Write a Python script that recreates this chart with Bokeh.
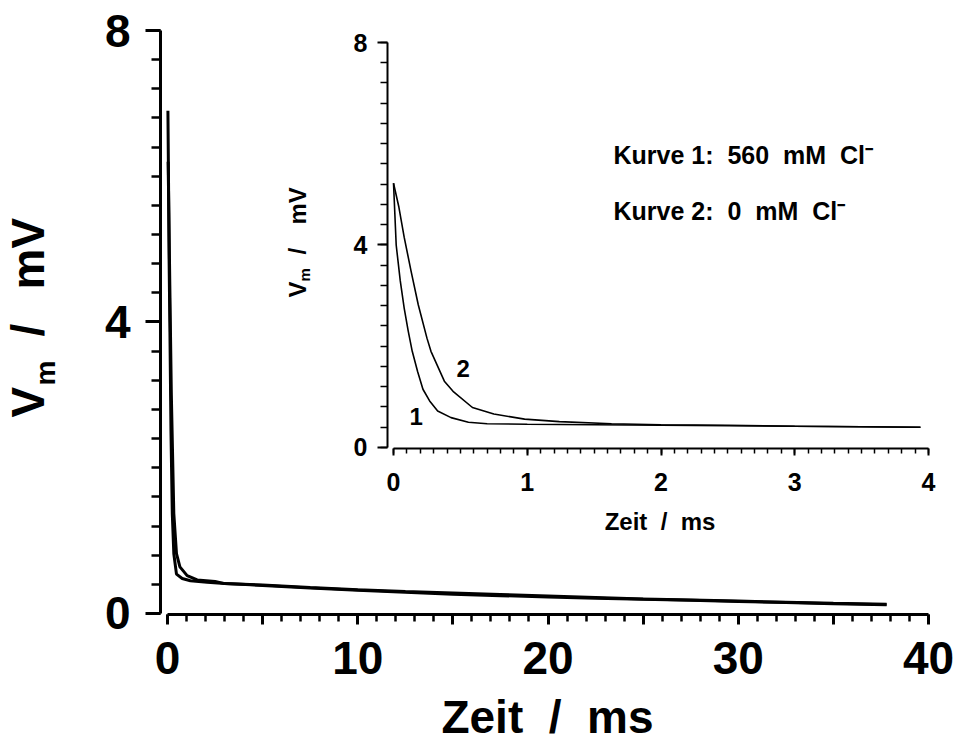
import math
from bokeh.plotting import figure
from bokeh.models import Range1d, SingleIntervalTicker, Label
from bokeh.embed import file_html
from bokeh.resources import INLINE

FONT = "Liberation Sans"

# ---------------- data ----------------
# main plot, time in ms, voltage in mV
main_t1 = [0.02, 0.05, 0.08, 0.12, 0.18, 0.25, 0.33, 0.47, 0.77, 1.2, 2.08,
           3.0, 5.0, 7.5, 10.0, 12.5, 15.0, 17.5, 20.0, 22.5, 25.0, 27.5, 30.0, 32.5, 35.0, 37.8]
main_v1 = [6.9, 6.0, 4.9, 4.0, 2.5, 1.37, 0.82, 0.54, 0.48, 0.45, 0.43,
           0.41, 0.39, 0.355, 0.325, 0.30, 0.28, 0.26, 0.24, 0.22, 0.20, 0.185, 0.17, 0.155, 0.14, 0.125]
main_t2 = [0.03, 0.07, 0.12, 0.2, 0.33, 0.47, 0.65, 1.03, 1.56, 2.5,
           3.0, 5.0, 7.5, 10.0, 12.5, 15.0, 17.5, 20.0, 22.5, 25.0, 27.5, 30.0, 32.5, 35.0, 37.8]
main_v2 = [6.2, 5.5, 4.5, 3.0, 1.37, 0.82, 0.64, 0.52, 0.46, 0.44,
           0.41, 0.385, 0.35, 0.32, 0.29, 0.265, 0.245, 0.225, 0.21, 0.195, 0.18, 0.165, 0.15, 0.135, 0.12]

# inset, curve 1: 560 mM Cl-, curve 2: 0 mM Cl-
inset_t1 = [0.0, 0.02, 0.05, 0.08, 0.11, 0.14, 0.18, 0.22, 0.27, 0.33, 0.43, 0.56, 0.7,
            1.0, 1.5, 2.0, 2.5, 3.0, 3.5, 3.94]
inset_v1 = [5.22, 4.0, 3.3, 2.75, 2.3, 1.9, 1.5, 1.15, 0.92, 0.72, 0.59, 0.5, 0.47,
            0.46, 0.45, 0.44, 0.43, 0.42, 0.41, 0.40]
inset_t2 = [0.0, 0.04, 0.08, 0.13, 0.185, 0.25, 0.28, 0.38, 0.445, 0.59, 0.75, 0.98, 1.24,
            1.63, 2.0, 2.5, 3.0, 3.5, 3.94]
inset_v2 = [5.22, 4.75, 4.15, 3.5, 2.82, 2.16, 1.9, 1.31, 1.11, 0.79, 0.66, 0.56, 0.51,
            0.47, 0.45, 0.44, 0.42, 0.41, 0.40]

curve_labels = ["1", "2"]
curve_label_t = [0.17, 0.52]
curve_label_v = [0.61, 1.57]
legend_lines = ["Kurve\u00a01:\u00a0\u00a0560\u00a0\u00a0mM\u00a0\u00a0Cl\u207b",
                "Kurve\u00a02:\u00a0\u00a00\u00a0\u00a0mM\u00a0\u00a0Cl\u207b"]
legend_t = [1.645, 1.645]
legend_v = [5.78, 4.68]
x_label = "Zeit\u00a0 /\u00a0 ms"
y_label_parts = ["V", "m", "/", "mV"]   # V_m / mV


def style_axis(ax, size, lw, minor_lw, major_out, minor_out, standoff):
    ax.axis_line_width = lw
    ax.major_tick_line_width = lw
    ax.minor_tick_line_width = minor_lw
    ax.major_tick_in = 0
    ax.minor_tick_in = 0
    ax.major_tick_out = major_out
    ax.minor_tick_out = minor_out
    ax.axis_line_color = "black"
    ax.major_tick_line_color = "black"
    ax.minor_tick_line_color = "black"
    ax.major_label_text_font = FONT
    ax.major_label_text_font_style = "bold"
    ax.major_label_text_font_size = size
    ax.major_label_text_color = "black"
    ax.major_label_standoff = standoff


def txt_label(fig, text, x, y, size, angle=0.0, align="left", baseline="alphabetic"):
    fig.add_layout(Label(x=x, y=y, text=text, angle=angle, text_align=align,
                         text_baseline=baseline, text_font=FONT, text_font_style="bold",
                         text_font_size=size, text_color="black"))


# ---------------- main figure ----------------
p = figure(width=961, height=742, x_range=Range1d(-0.37, 40.37), y_range=Range1d(-0.014, 8.0),
           output_backend="svg", toolbar_location=None,
           min_border_left=160, min_border_right=26, min_border_top=30, min_border_bottom=128)
p.outline_line_color = None
p.grid.visible = False

xa = p.xaxis[0]
xa.bounds = (0, 40)
xa.ticker = SingleIntervalTicker(interval=5, num_minor_ticks=5)
xa.major_label_overrides = {5: "", 15: "", 25: "", 35: ""}
style_axis(xa, "46px", 3, 2.5, 10, 7, 17)

ya = p.yaxis[0]
ya.bounds = (0, 8)
ya.ticker = SingleIntervalTicker(interval=4, num_minor_ticks=10)
style_axis(ya, "46px", 3, 2.5, 15, 9, 15)

p.line(main_t1, main_v1, line_color="black", line_width=3)
p.line(main_t2, main_v2, line_color="black", line_width=3)

# ---------------- inset figure ----------------
q = figure(width=681, height=535, x_range=Range1d(-0.045, 4.03), y_range=Range1d(-0.02, 8.0),
           output_backend="svg", toolbar_location=None,
           min_border_left=107, min_border_right=29, min_border_top=17, min_border_bottom=112)
q.outline_line_color = None
q.grid.visible = False
q.background_fill_color = None
q.border_fill_color = None
q.styles = {"position": "absolute", "left": "280px", "top": "25px"}

qx = q.xaxis[0]
qx.bounds = (0, 4)
qx.ticker = SingleIntervalTicker(interval=1, num_minor_ticks=10)
style_axis(qx, "25px", 2, 1.5, 7, 5, 17)
qx.axis_label = x_label
qx.axis_label_text_font = FONT
qx.axis_label_text_font_style = "bold"
qx.axis_label_text_font_size = "24px"
qx.axis_label_text_color = "black"
qx.axis_label_standoff = 14

qy = q.yaxis[0]
qy.bounds = (0, 8)
qy.ticker = SingleIntervalTicker(interval=4, num_minor_ticks=10)
style_axis(qy, "25px", 2, 1.5, 10, 7, 10)

q.line(inset_t1, inset_v1, line_color="black", line_width=1.6)
q.line(inset_t2, inset_v2, line_color="black", line_width=1.6)

for t, tx, ty in zip(curve_labels, curve_label_t, curve_label_v):
    txt_label(q, t, tx, ty, "24px", align="center", baseline="middle")
for t, tx, ty in zip(legend_lines, legend_t, legend_v):
    txt_label(q, t, tx, ty, "25px")

# ---------------- transparent overlay for axis titles (page pixel coordinates) ----------------
o = figure(width=961, height=742, x_range=Range1d(0, 961), y_range=Range1d(742, 0),
           output_backend="svg", toolbar_location=None, title=None,
           x_axis_location=None, y_axis_location=None, min_border=0)
o.outline_line_color = None
o.grid.visible = False
o.background_fill_color = None
o.border_fill_color = None
o.styles = {"position": "absolute", "left": "0px", "top": "0px"}

R = math.pi / 2
# main axis titles
txt_label(o, x_label, 547, 716, "46px", align="center")
txt_label(o, y_label_parts[0], 27, 417, "46px", angle=R)
txt_label(o, y_label_parts[1], 45, 385, "28px", angle=R)
txt_label(o, y_label_parts[2], 27, 336, "46px", angle=R)
txt_label(o, y_label_parts[3], 27, 289, "46px", angle=R)
# inset y-axis title
txt_label(o, y_label_parts[0], 297, 297, "24px", angle=R)
txt_label(o, y_label_parts[1], 304, 281, "15px", angle=R)
txt_label(o, y_label_parts[2], 297, 254, "24px", angle=R)
txt_label(o, y_label_parts[3], 297, 224, "24px", angle=R)

open("out.html", "w").write(file_html([p, q, o], INLINE))
